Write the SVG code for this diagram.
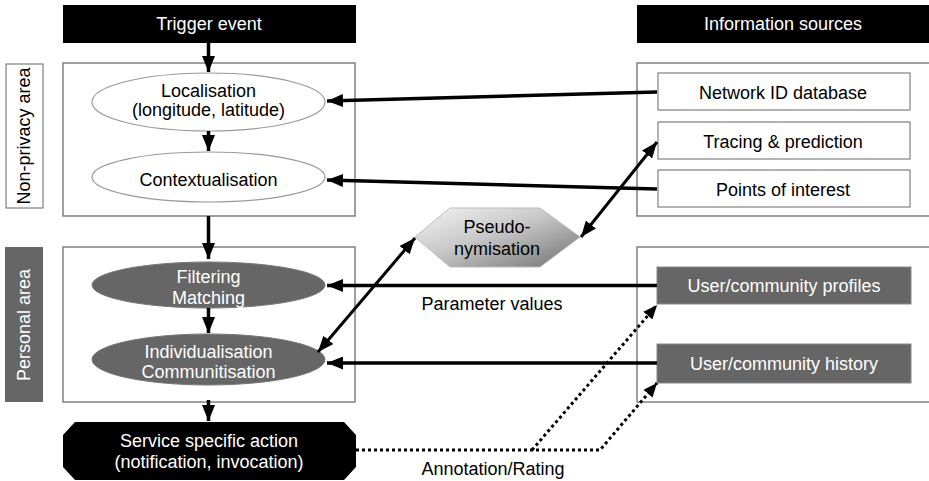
<svg xmlns="http://www.w3.org/2000/svg" width="929" height="481" viewBox="0 0 929 481">
<defs>
<marker id="ah" markerUnits="userSpaceOnUse" markerWidth="17" markerHeight="13" refX="16" refY="6.5" orient="auto-start-reverse"><path d="M0,0 L16,6.5 L0,13 z" fill="#000"/></marker>
<marker id="ahs" markerUnits="userSpaceOnUse" markerWidth="15" markerHeight="12" refX="14" refY="6" orient="auto"><path d="M0,0 L14,6 L0,12 z" fill="#000"/></marker>
<linearGradient id="pg" x1="0" y1="0" x2="1" y2="1">
<stop offset="0" stop-color="#f4f4f4"/><stop offset="0.45" stop-color="#c8c8c8"/><stop offset="1" stop-color="#707070"/>
</linearGradient>
</defs>
<style>
text{font-family:"Liberation Sans",Arial,sans-serif;font-size:18px;text-anchor:middle;fill:#000}
.w{fill:#fff}
.cont{fill:#fff;stroke:#808080;stroke-width:1.5}
.box{fill:#fff;stroke:#808080;stroke-width:1.2}
.gbox{fill:#666;stroke:#888;stroke-width:1}
.ell{fill:#fff;stroke:#999;stroke-width:1.2}
.gell{fill:#666;stroke:#777;stroke-width:1}
.blk{fill:#000}
.ln{fill:none;stroke:#000;stroke-width:3.5}
.dl{fill:none;stroke:#000;stroke-width:3;marker-end:url(#ah)}
.dot{fill:none;stroke:#000;stroke-width:3;stroke-dasharray:3 3}
</style>

<g id="containers">
<rect class="cont" x="63" y="63" width="292" height="153"/>
<rect class="cont" x="637" y="63" width="300" height="153"/>
<rect class="cont" x="63" y="247" width="292" height="155"/>
<rect class="cont" x="637" y="247" width="300" height="155"/>
</g>

<g id="trigger">
<rect class="blk" x="63" y="5" width="293" height="38"/>
<text class="w" x="209" y="30">Trigger event</text>
</g>
<g id="info-sources">
<rect class="blk" x="637" y="5" width="292" height="38"/>
<text class="w" x="783" y="30">Information sources</text>
</g>

<g id="nonprivacy-label">
<rect fill="#fff" stroke="#808080" stroke-width="1.2" x="6" y="64" width="37" height="144"/>
<text transform="translate(30,136) rotate(-90)">Non-privacy area</text>
</g>
<g id="personal-label">
<rect fill="#666" x="5" y="247" width="38" height="155"/>
<text class="w" transform="translate(30,325) rotate(-90)">Personal area</text>
</g>

<g id="localisation">
<ellipse class="ell" cx="208.5" cy="102" rx="116.5" ry="29"/>
<text x="208.5" y="97">Localisation</text>
<text x="208.5" y="116">(longitude, latitude)</text>
</g>
<g id="contextualisation">
<ellipse class="ell" cx="208.5" cy="177" rx="116.5" ry="25"/>
<text x="208.5" y="186">Contextualisation</text>
</g>
<g id="filtering">
<ellipse class="gell" cx="208.5" cy="285" rx="116.5" ry="23"/>
<text class="w" x="208.5" y="283">Filtering</text>
<text class="w" x="208.5" y="304">Matching</text>
</g>
<g id="individualisation">
<ellipse class="gell" cx="208.5" cy="359.5" rx="116.5" ry="25.5"/>
<text class="w" x="208.5" y="358">Individualisation</text>
<text class="w" x="208.5" y="378">Communitisation</text>
</g>
<g id="service">
<polygon class="blk" points="75,422 344,422 356,435 356,467 344,480 75,480 63,467 63,435"/>
<text class="w" x="209" y="447">Service specific action</text>
<text class="w" x="209" y="468">(notification, invocation)</text>
</g>

<g id="pseudonymisation">
<polygon fill="url(#pg)" stroke="#bbb" stroke-width="1" points="415,237 450,208 540,208 580,237 540,267 450,267"/>
<text x="497" y="233">Pseudo-</text>
<text x="497" y="255">nymisation</text>
</g>

<g id="network-id">
<rect class="box" x="658" y="73" width="252" height="37"/>
<text x="783" y="99">Network ID database</text>
</g>
<g id="tracing">
<rect class="box" x="658" y="122" width="252" height="37"/>
<text x="783" y="148">Tracing &amp; prediction</text>
</g>
<g id="poi">
<rect class="box" x="658" y="170" width="252" height="37"/>
<text x="783" y="196">Points of interest</text>
</g>
<g id="profiles">
<rect class="gbox" x="657" y="267" width="254" height="37"/>
<text class="w" x="784" y="292">User/community profiles</text>
</g>
<g id="history">
<rect class="gbox" x="657" y="344" width="254" height="39"/>
<text class="w" x="784" y="370">User/community history</text>
</g>

<g id="connectors">
<path class="ln" d="M208.5,43 L208.5,72" marker-end="url(#ah)"/>
<path class="ln" d="M208.5,131 L208.5,151" marker-end="url(#ah)"/>
<path class="ln" d="M208.5,216 L208.5,259" marker-end="url(#ah)"/>
<path class="ln" d="M208.5,308 L208.5,333" marker-end="url(#ah)"/>
<path class="ln" d="M208.5,400 L208.5,421" marker-end="url(#ah)"/>
<path class="ln" d="M657,92 L327,101" marker-end="url(#ah)"/>
<path class="ln" d="M657,189 L327,180" marker-end="url(#ah)"/>
<path class="ln" d="M657,285.5 L327,285.5" marker-end="url(#ah)"/>
<path class="ln" d="M657,363 L327,363" marker-end="url(#ah)"/>
<path class="dl" d="M581,237 L657,142" marker-start="url(#ah)"/>
<path class="dl" d="M318,352 L415,238" marker-start="url(#ah)"/>
<path class="dot" d="M356,450 L600,450 L657,383" marker-end="url(#ahs)"/>
<path class="dot" d="M532,450 L657,305" marker-end="url(#ahs)"/>
<text x="492" y="310">Parameter values</text>
<text x="493" y="475">Annotation/Rating</text>
</g>
</svg>
